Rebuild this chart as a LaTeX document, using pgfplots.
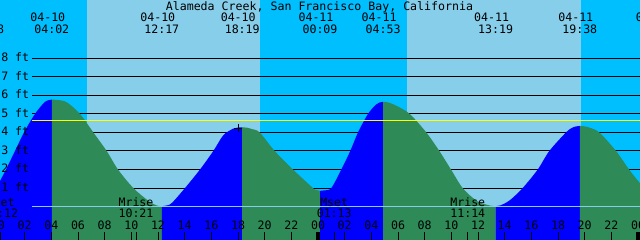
\documentclass[border=0pt]{standalone}
\usepackage{fontspec}
\setmonofont{DejaVu Sans Mono}
\usepackage{pgfplots}
\pgfplotsset{compat=1.18}
\definecolor{night}{HTML}{00BFFF}
\definecolor{day}{HTML}{87CEEB}
\definecolor{rise}{HTML}{0000FF}
\definecolor{fall}{HTML}{2E8B57}
\definecolor{markline}{HTML}{FFFF00}
\newcommand\tf{\ttfamily\fontsize{8.7}{10}\selectfont}
\begin{document}
\begin{tikzpicture}[every node/.append style={font=\tf, inner sep=0pt}]
\begin{axis}[
  scale only axis, width=480pt, height=180pt,
  xmin=0.15, xmax=48.15, ymin=-1.8015, ymax=11.1435,
  axis line style={draw=none},
  axis background/.style={fill=night},
  ytick=\empty,
  xtick={0,2,4,6,8,10,12,14,16,18,20,22,24,26,28,30,32,34,36,38,40,42,44,46,48,0.2,10.35,25.217,35.233},
  xticklabels={},
  xtick pos=left,
  tick align=inside,
  major tick length=6pt,
  tick style={black, line width=0.75pt},
  axis on top,
  clip=true,
]
% daylight bands
\addplot[fill=day, draw=none] coordinates {(6.675,-3) (6.675,12) (19.65,12) (19.65,-3)};
\addplot[fill=day, draw=none] coordinates {(30.65,-3) (30.65,12) (43.70,12) (43.70,-3)};
% level lines
\addplot[black, line width=0.75pt] coordinates {(2.55,1) (49,1)};
\addplot[black, line width=0.75pt] coordinates {(2.55,2) (49,2)};
\addplot[black, line width=0.75pt] coordinates {(2.55,3) (49,3)};
\addplot[black, line width=0.75pt] coordinates {(2.55,4) (49,4)};
\addplot[black, line width=0.75pt] coordinates {(2.55,5) (49,5)};
\addplot[black, line width=0.75pt] coordinates {(2.55,6) (49,6)};
\addplot[black, line width=0.75pt] coordinates {(2.55,7) (49,7)};
\addplot[black, line width=0.75pt] coordinates {(2.55,8) (49,8)};
% tide: rising (blue) and falling (green)
\addplot[fill=rise, draw=none, smooth] coordinates {(-0.2,0.9) (0.6,2) (1.275,3) (1.95,4) (2.775,5) (3.45,5.6) (3.75,5.73) (4.033,5.77)} -- (axis cs:4.033,-3) -- (axis cs:-0.2,-3) -- cycle;
\addplot[fill=fall, draw=none, smooth] coordinates {(4.033,5.77) (4.4,5.755) (5.15,5.63) (6.15,5.0) (7.15,4.0) (8.15,3.0) (9.0,2.0) (10.15,1.0) (11.3,0.3) (11.9,0.06) (12.283,0.02)} -- (axis cs:12.283,-3) -- (axis cs:4.033,-3) -- cycle;
\addplot[fill=rise, draw=none, smooth] coordinates {(12.283,0.02) (12.7,0.07) (13.05,0.2) (14.025,1) (15.15,2) (16.15,3) (16.9,3.85) (17.625,4.2) (17.95,4.257) (18.317,4.28)} -- (axis cs:18.317,-3) -- (axis cs:12.283,-3) -- cycle;
\addplot[fill=fall, draw=none, smooth] coordinates {(18.317,4.28) (18.7,4.252) (19.05,4.18) (19.63,4) (20.75,3) (22.125,2) (23.625,1) (23.85,0.90) (24.15,0.85)} -- (axis cs:24.15,-3) -- (axis cs:18.317,-3) -- cycle;
\addplot[fill=rise, draw=none, smooth] coordinates {(24.15,0.85) (24.5,0.876) (25.0,1) (25.75,2) (26.42,3) (27.0,4) (27.75,5) (28.35,5.5) (28.6,5.61) (28.883,5.65)} -- (axis cs:28.883,-3) -- (axis cs:24.15,-3) -- cycle;
\addplot[fill=fall, draw=none, smooth] coordinates {(28.883,5.65) (29.25,5.62) (29.85,5.45) (30.88,5) (32.12,4) (33.10,3) (33.975,2) (34.85,1) (35.925,0.3) (36.9,0.055) (37.317,0.03)} -- (axis cs:37.317,-3) -- (axis cs:28.883,-3) -- cycle;
\addplot[fill=rise, draw=none, smooth] coordinates {(37.317,0.03) (37.7,0.07) (38.4,0.35) (39.35,1) (40.48,2) (41.35,3) (42.6,4) (43.05,4.25) (43.3,4.317) (43.633,4.35)} -- (axis cs:43.633,-3) -- (axis cs:37.317,-3) -- cycle;
\addplot[fill=fall, draw=none, smooth] coordinates {(43.633,4.35) (44.0,4.327) (44.4,4.25) (45.1,4) (46.35,3) (47.33,2) (48.15,1.26) (48.5,0.98)} -- (axis cs:48.5,-3) -- (axis cs:43.633,-3) -- cycle;
% datum and mark lines
\addplot[day, line width=0.75pt] coordinates {(2.55,0) (49,0)};
\addplot[markline, line width=0.75pt] coordinates {(2.55,4.655) (49,4.655)};
% midnight blocks
\addplot[black, line width=3pt] coordinates {(24,-1.37) (24,-1.9)};
\addplot[black, line width=3pt] coordinates {(48,-1.37) (48,-1.9)};
% current mark
\addplot[only marks, mark=+, mark size=3pt, black, line width=0.75pt] coordinates {(18.02,4.22)};
% title
\node[anchor=base] at (axis cs:24.11,10.60) {Alameda Creek, San Francisco Bay, California};
% event labels
\node[anchor=base] at (axis cs:-1.4,9.99) {04-09}; \node[anchor=base] at (axis cs:-0.86,9.35) {23:08};
\node[anchor=base] at (axis cs:3.733,9.99) {04-10}; \node[anchor=base] at (axis cs:4.033,9.35) {04:02};
\node[anchor=base] at (axis cs:11.983,9.99) {04-10}; \node[anchor=base] at (axis cs:12.283,9.35) {12:17};
\node[anchor=base] at (axis cs:18.017,9.99) {04-10}; \node[anchor=base] at (axis cs:18.317,9.35) {18:19};
\node[anchor=base] at (axis cs:23.85,9.99) {04-11}; \node[anchor=base] at (axis cs:24.15,9.35) {00:09};
\node[anchor=base] at (axis cs:28.583,9.99) {04-11}; \node[anchor=base] at (axis cs:28.883,9.35) {04:53};
\node[anchor=base] at (axis cs:37.017,9.99) {04-11}; \node[anchor=base] at (axis cs:37.317,9.35) {13:19};
\node[anchor=base] at (axis cs:43.333,9.99) {04-11}; \node[anchor=base] at (axis cs:43.633,9.35) {19:38};
\node[anchor=base] at (axis cs:49.15,9.99) {04-12}; \node[anchor=base] at (axis cs:49.6,9.35) {01:18};
% level labels
\node[anchor=base west] at (axis cs:0.225,7.82) {8 ft};
\node[anchor=base west] at (axis cs:0.225,6.82) {7 ft};
\node[anchor=base west] at (axis cs:0.225,5.82) {6 ft};
\node[anchor=base west] at (axis cs:0.225,4.82) {5 ft};
\node[anchor=base west] at (axis cs:0.225,3.82) {4 ft};
\node[anchor=base west] at (axis cs:0.225,2.82) {3 ft};
\node[anchor=base west] at (axis cs:0.225,1.82) {2 ft};
\node[anchor=base west] at (axis cs:0.225,0.82) {1 ft};
% moon events
\node[anchor=base] at (axis cs:0.2,0.03) {Mset}; \node[anchor=base] at (axis cs:0.2,-0.6) {00:12};
\node[anchor=base] at (axis cs:10.35,0.03) {Mrise}; \node[anchor=base] at (axis cs:10.35,-0.6) {10:21};
\node[anchor=base] at (axis cs:25.217,0.03) {Mset}; \node[anchor=base] at (axis cs:25.217,-0.6) {01:13};
\node[anchor=base] at (axis cs:35.233,0.03) {Mrise}; \node[anchor=base] at (axis cs:35.233,-0.6) {11:14};
% hour labels
\node[anchor=base] at (axis cs:0,-1.262) {00};
\node[anchor=base] at (axis cs:2,-1.262) {02};
\node[anchor=base] at (axis cs:4,-1.262) {04};
\node[anchor=base] at (axis cs:6,-1.262) {06};
\node[anchor=base] at (axis cs:8,-1.262) {08};
\node[anchor=base] at (axis cs:10,-1.262) {10};
\node[anchor=base] at (axis cs:12,-1.262) {12};
\node[anchor=base] at (axis cs:14,-1.262) {14};
\node[anchor=base] at (axis cs:16,-1.262) {16};
\node[anchor=base] at (axis cs:18,-1.262) {18};
\node[anchor=base] at (axis cs:20,-1.262) {20};
\node[anchor=base] at (axis cs:22,-1.262) {22};
\node[anchor=base] at (axis cs:24,-1.262) {00};
\node[anchor=base] at (axis cs:26,-1.262) {02};
\node[anchor=base] at (axis cs:28,-1.262) {04};
\node[anchor=base] at (axis cs:30,-1.262) {06};
\node[anchor=base] at (axis cs:32,-1.262) {08};
\node[anchor=base] at (axis cs:34,-1.262) {10};
\node[anchor=base] at (axis cs:36,-1.262) {12};
\node[anchor=base] at (axis cs:38,-1.262) {14};
\node[anchor=base] at (axis cs:40,-1.262) {16};
\node[anchor=base] at (axis cs:42,-1.262) {18};
\node[anchor=base] at (axis cs:44,-1.262) {20};
\node[anchor=base] at (axis cs:46,-1.262) {22};
\node[anchor=base] at (axis cs:48,-1.262) {00};
\coordinate (SW) at (rel axis cs:0,0);
\coordinate (NE) at (rel axis cs:1,1);
\end{axis}
\pgfresetboundingbox
\useasboundingbox (SW) rectangle (NE);
\end{tikzpicture}
\end{document}
